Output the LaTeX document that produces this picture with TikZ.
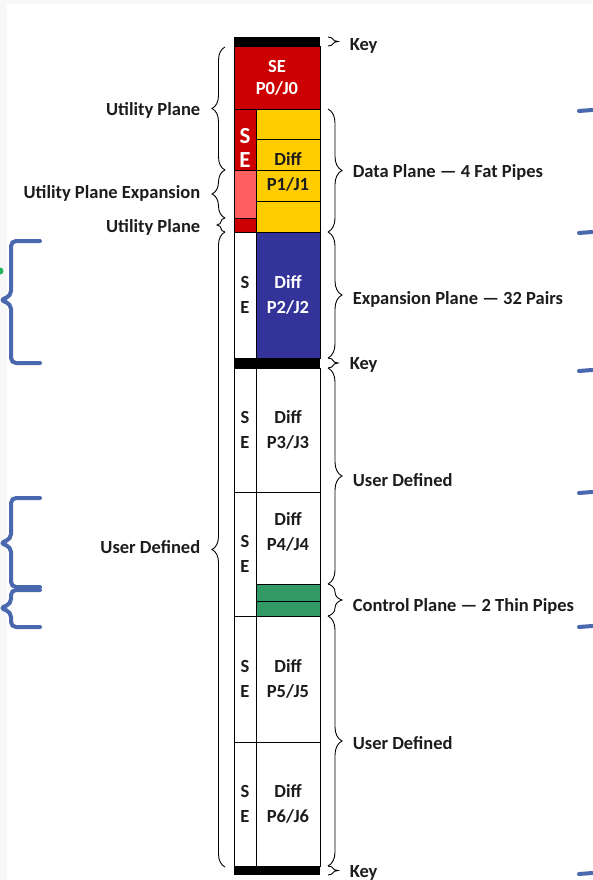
\documentclass[tikz,border=0pt]{standalone}
\usepackage{fontspec}
\setmainfont{Carlito}
\usepackage{tikz}
\usetikzlibrary{decorations.pathreplacing,positioning}
\definecolor{SERed}{HTML}{CC0000}
\definecolor{SEPink}{HTML}{FF5F5F}
\definecolor{DiffYellow}{HTML}{FFCC00}
\definecolor{DiffBlue}{HTML}{333399}
\definecolor{CtrlGreen}{HTML}{339966}
\definecolor{PenBlue}{HTML}{4A68AE}
\definecolor{DotGreen}{HTML}{1FB45A}
\definecolor{LabelInk}{HTML}{1C1C1C}

\begin{document}
\begin{tikzpicture}[x=1pt,y=-1pt,font=\bfseries\fontsize{18.5}{25}\selectfont]
\tikzset{blk/.style={draw=black,line width=.8pt,anchor=north west,inner sep=0pt,outer sep=0pt,align=center,text=LabelInk},
bar/.style={fill=black,anchor=north west,inner sep=0pt,outer sep=0pt,minimum width=86pt},
lb/.style={decorate,decoration={brace,amplitude=13pt},line width=.9pt},
rb/.style={decorate,decoration={brace,amplitude=14pt},line width=.9pt},
lt/.style={anchor=east,text=LabelInk,xshift=-21pt},
rt/.style={anchor=west,text=LabelInk,xshift=21pt},
pen/.style={PenBlue,line width=4pt,rounded corners=5pt,line cap=round}}
\useasboundingbox (0,0) rectangle (592,880);
\fill[gray!6] (0,0) rectangle (7,880);
\fill[gray!6] (0,0) rectangle (592,4);
% utility plane + data plane
\node[blk,fill=SERed,text=white,minimum width=86pt,minimum height=63pt,font=\bfseries\fontsize{18.5}{22}\selectfont] (p0) at (234,46) {SE\\P0/J0};
\node[blk,fill=SERed,minimum width=22pt,minimum height=61pt] (se1) at (234,109) {};
\node[blk,fill=SEPink,minimum width=22pt,minimum height=48pt] (se1x) at (234,170) {};
\node[blk,fill=SERed,minimum width=22pt,minimum height=14pt] (se1b) at (234,218) {};
\foreach \i in {0,...,3}
  \node[blk,fill=DiffYellow,minimum width=64pt,minimum height=30.75pt] (fp\i) at (256,109+30.75*\i) {};
\node[text=white,align=center,font=\bfseries\fontsize{23}{24}\selectfont] (se1t) at (245,148) {S\\E};
\node[align=center,text=LabelInk] (d1) at (288,172) {Diff\\P1/J1};
% expansion plane
\node[blk,minimum width=22pt,minimum height=126pt] (se2) at (234,232) {S\\E};
\node[blk,fill=DiffBlue,text=white,minimum width=64pt,minimum height=126pt] (d2) at (256,232) {Diff\\P2/J2};
% user defined
\node[blk,minimum width=22pt,minimum height=124pt] (se3) at (234,368) {S\\E};
\node[blk,minimum width=64pt,minimum height=124pt] (d3) at (256,368) {Diff\\P3/J3};
\node[blk,minimum width=22pt,minimum height=124pt] (se4) at (234,492) {S\\E};
\node[blk,minimum width=64pt,minimum height=92pt] (d4) at (256,492) {};
\node[align=center,text=LabelInk] (d4t) at (288,532) {Diff\\P4/J4};
\node[blk,fill=CtrlGreen,minimum width=64pt,minimum height=17pt] (tp1) at (256,584) {};
\node[blk,fill=CtrlGreen,minimum width=64pt,minimum height=15pt] (tp2) at (256,601) {};
\node[blk,minimum width=22pt,minimum height=126pt] (se5) at (234,616) {S\\E};
\node[blk,minimum width=64pt,minimum height=126pt] (d5) at (256,616) {Diff\\P5/J5};
\node[blk,minimum width=22pt,minimum height=124pt] (se6) at (234,742) {S\\E};
\node[blk,minimum width=64pt,minimum height=124pt] (d6) at (256,742) {Diff\\P6/J6};
% keys
\node[bar,minimum height=9pt] (k0) at (234,37) {};
\node[bar,minimum height=10pt] (k1) at (234,358) {};
\node[bar,minimum height=9pt] (k2) at (234,866) {};
% left braces
\draw[lb] (225,170) -- (225,47) node[midway,lt,yshift=-2pt] (up1) {Utility Plane};
\draw[lb] (225,218) -- (225,170) node[midway,lt,yshift=1pt] (upx) {Utility Plane Expansion};
\draw[lb,decoration={amplitude=8pt}] (225,232) -- (225,218) node[midway,lt,yshift=-2pt] (up2) {Utility Plane};
\draw[lb] (225,867) -- (225,232) node[midway,lt,yshift=2pt] (ud0) {User Defined};
% right braces
\draw[rb,decoration={amplitude=10pt}] (328,37) -- (328,46) node[midway,rt,xshift=-3pt,yshift=-4pt] (key0) {Key};
\draw[rb] (328,109) -- (328,232) node[midway,rt,yshift=-2pt] (dp) {Data Plane — 4 Fat Pipes};
\draw[rb] (328,232) -- (328,358) node[midway,rt,yshift=-4pt] (ep) {Expansion Plane — 32 Pairs};
\draw[rb,decoration={amplitude=10pt}] (328,358) -- (328,368) node[midway,rt,xshift=-3pt,yshift=-2pt] (key1) {Key};
\draw[rb] (328,368) -- (328,584) node[midway,rt,yshift=-4pt] (ud1) {User Defined};
\draw[rb] (328,584) -- (328,616) node[midway,rt,yshift=-6pt] (cp) {Control Plane — 2 Thin Pipes};
\draw[rb] (328,616) -- (328,866) node[midway,rt,yshift=-2pt] (ud2) {User Defined};
\draw[rb,decoration={amplitude=10pt}] (328,866) -- (328,875) node[midway,rt,xshift=-3pt,yshift=-2pt] (key2) {Key};
% pen notes
\draw[pen] (40,241) -- (11,241) -- (11,296) -- (0,300) -- (11,304) -- (11,363) -- (40,363);
\draw[pen] (40,498) -- (11,498) -- (11,539) -- (0,543) -- (11,547) -- (11,587) -- (40,587);
\draw[pen] (40,590) -- (11,590) -- (11,604) -- (0,608) -- (11,612) -- (11,627) -- (40,627);
\node[circle,fill=DotGreen,inner sep=0pt,minimum size=7pt] (dot) at (0,271) {};
\foreach \y in {111,233,371,493,627,874}
  \draw[pen,rounded corners=0pt] (579,\y) -- (592,\y-1);
\end{tikzpicture}
\end{document}
